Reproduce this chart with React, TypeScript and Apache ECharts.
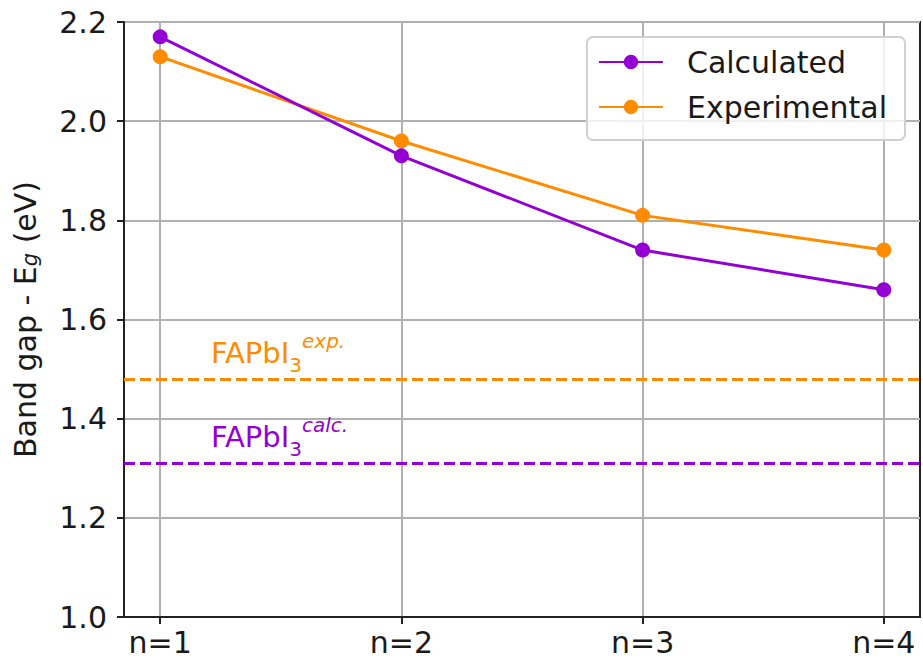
import React, { useEffect, useRef } from "react";
import * as echarts from "echarts";

const categories = ["n=1", "n=2", "n=3", "n=4"];
const calculated = [2.17, 1.93, 1.74, 1.66];
const experimental = [2.13, 1.96, 1.81, 1.74];
const fapbiExp = 1.48;
const fapbiCalc = 1.31;
const yTicks = [1.0, 1.2, 1.4, 1.6, 1.8, 2.0, 2.2];

const PURPLE = "#9400D3";
const ORANGE = "#FF8C00";
const FONT = "DejaVu Sans";
const TXT = "#1a1a1a";
const FS = 30;

export default function App() {
  const ref = useRef<HTMLDivElement>(null);
  useEffect(() => {
    if (!ref.current) return;
    const chart = echarts.init(ref.current, null, { renderer: "svg" });
    const idx = categories.map((_, i) => i);
    const richLabel = (sup: string, color: string) => ({
      show: true,
      position: "insideStartTop",
      distance: [87, 4],
      formatter: "{m|FAPbI}{sub|3}{sup|" + sup + "}",
      color,
      rich: {
        m: { fontFamily: FONT, fontSize: 29, lineHeight: 44, color },
        sub: { fontFamily: FONT, fontSize: 20, lineHeight: 20, verticalAlign: "bottom", color },
        sup: { fontFamily: FONT, fontSize: 20, lineHeight: 20, fontStyle: "italic", verticalAlign: "top", color },
      },
    });
    chart.setOption({
      animation: false,
      backgroundColor: "#ffffff",
      grid: {
        left: 124,
        top: 22,
        right: 3,
        bottom: 45,
        show: true,
        borderColor: "#222222",
        borderWidth: 2,
        backgroundColor: "transparent",
      },
      legend: {
        orient: "vertical",
        right: 18,
        top: 37,
        itemWidth: 64,
        itemHeight: 18,
        itemGap: 11,
        padding: [8, 18, 16, 11],
        borderColor: "#d0d0d0",
        borderWidth: 2,
        borderRadius: 6,
        backgroundColor: "rgba(255,255,255,0.8)",
        textStyle: { fontFamily: FONT, fontSize: FS, lineHeight: 34, color: TXT, padding: [0, 0, 0, 19] },
        data: ["Calculated", "Experimental"],
      },
      xAxis: {
        type: "value",
        min: -0.15,
        max: 3.15,
        axisLine: { show: true, onZero: false, lineStyle: { color: "#222222", width: 2 } },
        axisTick: { show: true, customValues: idx, length: 7, lineStyle: { color: "#222222", width: 2 } },
        axisLabel: {
          customValues: idx,
          formatter: (v: number) => categories[Math.round(v)] ?? "",
          fontFamily: FONT,
          fontSize: FS,
          color: TXT,
          margin: 10,
        },
        splitLine: { show: true, lineStyle: { color: "#b0b0b0", width: 2 } },
      },
      yAxis: {
        type: "value",
        min: 1.0,
        max: 2.2,
        interval: 0.2,
        name: "Band gap - E{g|g} (eV)",
        nameLocation: "middle",
        nameGap: 84,
        nameTextStyle: {
          fontFamily: FONT,
          fontSize: FS,
          color: TXT,
          rich: {
            g: { fontFamily: FONT, fontSize: 21, fontStyle: "italic", color: TXT, verticalAlign: "bottom", lineHeight: 18 },
          },
        },
        axisLine: { show: true, onZero: false, lineStyle: { color: "#222222", width: 2 } },
        axisTick: { show: true, length: 7, lineStyle: { color: "#222222", width: 2 } },
        axisLabel: {
          formatter: (v: number) => v.toFixed(1),
          fontFamily: FONT,
          fontSize: FS,
          color: TXT,
          margin: 17,
        },
        splitLine: { show: true, lineStyle: { color: "#b0b0b0", width: 2 } },
      },
      series: [
        {
          name: "Calculated",
          type: "line",
          data: calculated.map((v, i) => [idx[i], v]),
          color: PURPLE,
          symbol: "circle",
          symbolSize: 15,
          lineStyle: { width: 3, color: PURPLE },
          itemStyle: { color: PURPLE },
          z: 3,
          markLine: {
            silent: true,
            symbol: ["none", "none"],
            lineStyle: { type: [11, 5], width: 3, color: PURPLE },
            label: richLabel("calc.", PURPLE),
            data: [{ yAxis: fapbiCalc }],
          },
        },
        {
          name: "Experimental",
          type: "line",
          data: experimental.map((v, i) => [idx[i], v]),
          color: ORANGE,
          symbol: "circle",
          symbolSize: 15,
          lineStyle: { width: 3, color: ORANGE },
          itemStyle: { color: ORANGE },
          z: 2,
          markLine: {
            silent: true,
            symbol: ["none", "none"],
            lineStyle: { type: [11, 5], width: 3, color: ORANGE },
            label: richLabel("exp.", ORANGE),
            data: [{ yAxis: fapbiExp }],
          },
        },
      ],
    });
    return () => chart.dispose();
  }, []);
  return (
    <div
      ref={ref}
      style={{ position: "fixed", left: 0, top: 0, width: 923, height: 662 }}
    />
  );
}

export { yTicks };
